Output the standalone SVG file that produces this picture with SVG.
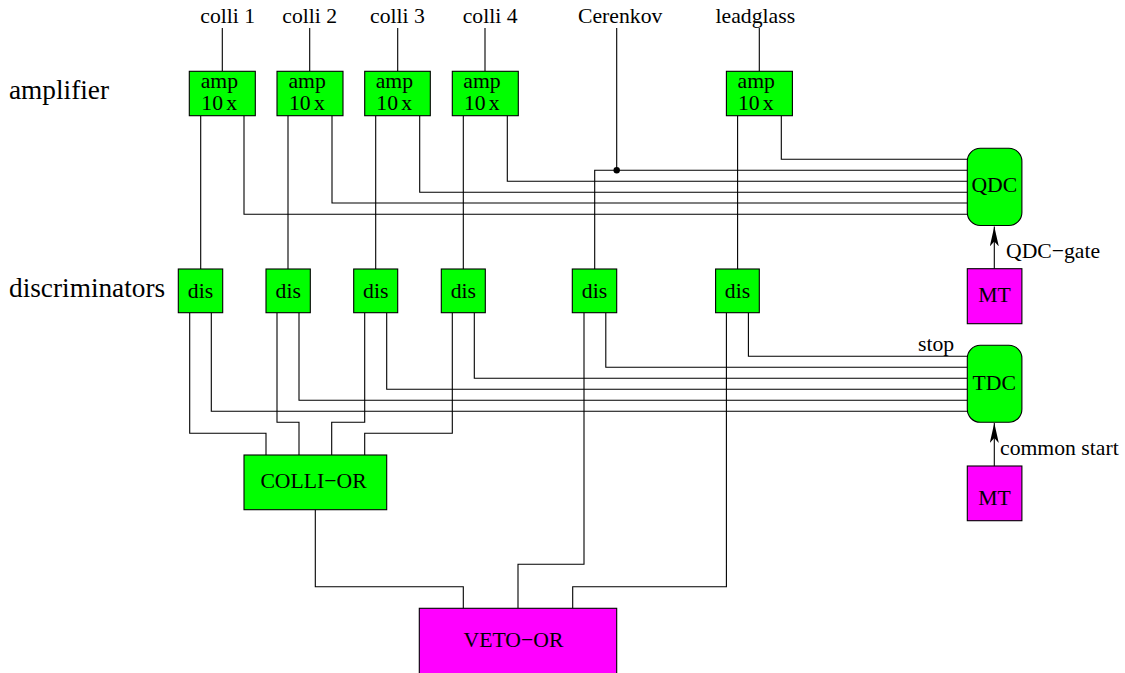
<svg xmlns="http://www.w3.org/2000/svg" width="1125" height="673" viewBox="0 0 1125 673">
<style>
text{font-family:"Liberation Serif","Times New Roman",serif;font-size:21.7px;fill:#000}
.m{text-anchor:middle}
.big{font-size:27.3px}
.x{word-spacing:-2.2px}
.g{fill:#0f0;stroke:#000;stroke-width:1.1}
.p{fill:#f0f;stroke:#000;stroke-width:1.1}
#connectors path{fill:none;stroke:#000;stroke-width:1.1}
</style>
<defs>
<marker id="arrow" markerUnits="userSpaceOnUse" markerWidth="21" markerHeight="9" refX="20" refY="4.5" orient="auto" viewBox="0 0 21 9">
<path d="M0 0L20 4.5L0 9L5 4.5Z" fill="#000" stroke="none"/>
</marker>
</defs>
<rect width="1125" height="673" fill="#fff"/>
<g id="connectors">
<path d="M222.3 28V71.3M309.7 28V71.3M397.7 28V71.3M485 28V71.3M759.3 28V71.3M616.7 28V170.3"/>
<path d="M200.7 115.7V269M288 115.7V269M375.7 115.7V269M463.3 115.7V269M737.6 115.7V269"/>
<path d="M244 115.7V214.3H967.3M332 115.7V203H967.3M419.7 115.7V192.3H967.3M507.3 115.7V181.3H967.3M781.3 115.7V159.3H967.3"/>
<path d="M967.3 170.3H594.7V269"/>
<path d="M211.3 312.7V411.3H967.3M299 312.7V400.3H967.3M386.7 312.7V389.3H967.3M474.3 312.7V378.3H967.3M605.8 312.7V367.3H967.3M748.4 312.7V356.3H967.3"/>
<path d="M189.7 312.7V433.3H266V455M277 312.7V422.3H299V455M364.7 312.7V422.3H331.7V455M452.3 312.7V433.3H364.7V455"/>
<path d="M315.3 509.7V586.7H463.3V608.3M584 312.7V564.3H518V608.3M726.4 312.7V586.7H572.7V608.3"/>
<path d="M994.3 268.7V226.4" marker-end="url(#arrow)"/>
<path d="M994.3 466V423" marker-end="url(#arrow)"/>
<circle cx="616.7" cy="170.3" r="3.2" fill="#000"/>
</g>
<g id="labels">
<text x="200.3" y="22.7">colli 1</text>
<text x="282.3" y="22.7">colli 2</text>
<text x="370" y="22.7">colli 3</text>
<text x="462.7" y="22.7">colli 4</text>
<text x="578" y="22.7">Cerenkov</text>
<text x="715.6" y="22.7">leadglass</text>
<text class="big" x="9" y="99">amplifier</text>
<text class="big" x="9" y="297">discriminators</text>
<text x="1006" y="258">QDC−gate</text>
<text x="918" y="350.7">stop</text>
<text x="1000" y="455">common start</text>
</g>
<g id="amp1"><rect class="g" x="189.3" y="71.3" width="66" height="44.4"/><text x="200.7" y="88">amp</text><text class="x" x="201.3" y="110">10 x</text></g>
<g id="amp2"><rect class="g" x="277" y="71.3" width="66" height="44.4"/><text x="288.4" y="88">amp</text><text class="x" x="289" y="110">10 x</text></g>
<g id="amp3"><rect class="g" x="364.7" y="71.3" width="65.6" height="44.4"/><text x="375.7" y="88">amp</text><text class="x" x="376.3" y="110">10 x</text></g>
<g id="amp4"><rect class="g" x="452.3" y="71.3" width="66" height="44.4"/><text x="463.3" y="88">amp</text><text class="x" x="463.9" y="110">10 x</text></g>
<g id="amp5"><rect class="g" x="726.4" y="71.3" width="66" height="44.4"/><text x="737.6" y="88">amp</text><text class="x" x="737.9" y="110">10 x</text></g>
<g id="dis1"><rect class="g" x="178.3" y="269" width="44.4" height="43.7"/><text class="m" x="200.5" y="297.7">dis</text></g>
<g id="dis2"><rect class="g" x="266" y="269" width="44.3" height="43.7"/><text class="m" x="288.2" y="297.7">dis</text></g>
<g id="dis3"><rect class="g" x="353.7" y="269" width="44" height="43.7"/><text class="m" x="375.7" y="297.7">dis</text></g>
<g id="dis4"><rect class="g" x="441.3" y="269" width="44" height="43.7"/><text class="m" x="463.3" y="297.7">dis</text></g>
<g id="dis5"><rect class="g" x="572.3" y="269" width="44.4" height="43.7"/><text class="m" x="594.5" y="297.7">dis</text></g>
<g id="dis6"><rect class="g" x="715.6" y="269" width="43.7" height="43.7"/><text class="m" x="737.5" y="297.7">dis</text></g>
<g id="qdc"><rect class="g" x="967.3" y="148.3" width="54.6" height="77.2" rx="13" ry="13"/><text class="m" x="994.3" y="192">QDC</text></g>
<g id="tdc"><rect class="g" x="967.3" y="345.3" width="54.6" height="77" rx="13" ry="13"/><text class="m" x="994.3" y="390">TDC</text></g>
<g id="mt1"><rect class="p" x="967.3" y="268.7" width="54.6" height="55"/><text class="m" x="994.6" y="301.7">MT</text></g>
<g id="mt2"><rect class="p" x="967.3" y="466" width="54.6" height="54.7"/><text class="m" x="994.6" y="505">MT</text></g>
<g id="colli-or"><rect class="g" x="244" y="455" width="142.7" height="54.7"/><text class="m" x="313.5" y="488.3">COLLI−OR</text></g>
<g id="veto-or"><rect class="p" x="419.3" y="608.3" width="197.4" height="66"/><text class="m" x="513.5" y="646.7">VETO−OR</text></g>
</svg>
